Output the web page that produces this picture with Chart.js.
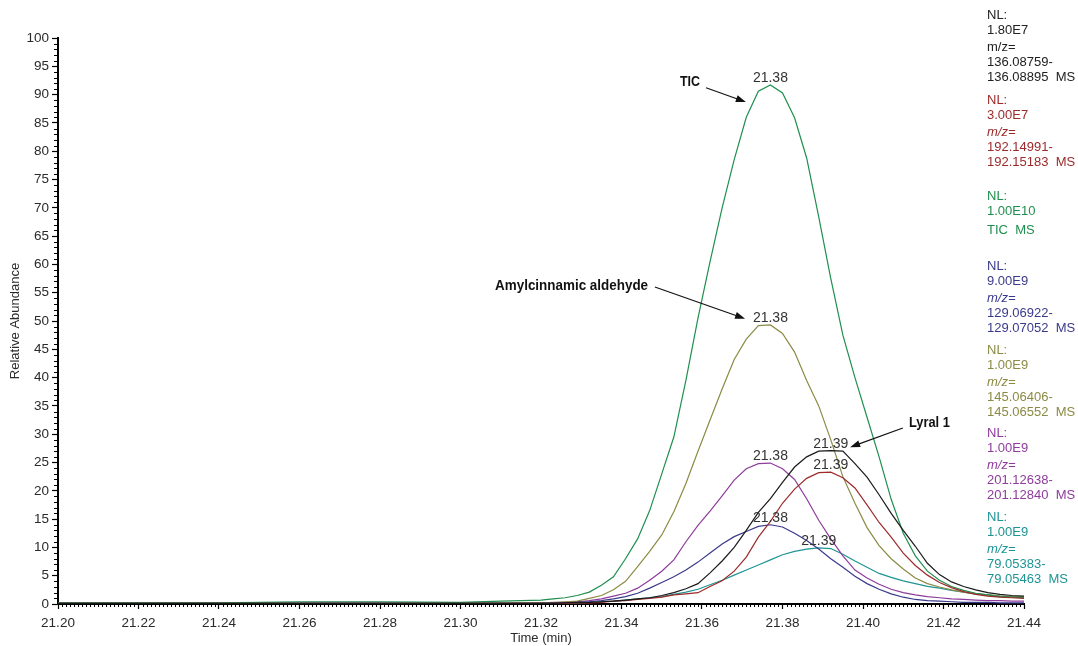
<!DOCTYPE html>
<html>
<head>
<meta charset="utf-8">
<script src="https://cdn.jsdelivr.net/npm/chart.js@4.4.1/dist/chart.umd.min.js"></script>
<style>
  html, body { margin: 0; background: #fff; }
  #wrap { width: 1078px; height: 646px; position: relative; }
</style>
</head>
<body>
<div id="wrap"><canvas id="chrom"></canvas></div>
<script>
// retention times (min): sparse baseline, then one point per scan across the peak
const times = [21.20, 21.22, 21.24, 21.26, 21.28, 21.30, 21.31,
  21.320, 21.323, 21.326, 21.329, 21.332, 21.335, 21.338, 21.341, 21.344, 21.347,
  21.350, 21.353, 21.356, 21.359, 21.362, 21.365, 21.368, 21.371, 21.374, 21.377,
  21.380, 21.383, 21.386, 21.389, 21.392, 21.395, 21.398, 21.401, 21.404, 21.407,
  21.410, 21.413, 21.416, 21.419, 21.422, 21.425, 21.428, 21.431, 21.434, 21.437, 21.440];

// relative abundance (%) per trace
const lyralData = [0.1, 0.1, 0.1, 0.1, 0.1, 0.1, 0.1,
  0.1, 0.1, 0.2, 0.3, 0.3, 0.4, 0.5, 0.7, 0.9, 1.1,
  1.5, 2.0, 2.7, 3.6, 5.5, 7.6, 10.0, 13.0, 16.2, 18.6,
  21.5, 24.2, 26.0, 27.0, 27.1, 27.0, 24.8, 22.4, 19.3, 16.0,
  13.0, 10.2, 7.2, 5.2, 3.9, 3.1, 2.5, 2.0, 1.7, 1.5, 1.4];
const mz192Data = [0.1, 0.1, 0.1, 0.1, 0.1, 0.1, 0.1,
  0.1, 0.1, 0.1, 0.2, 0.2, 0.3, 0.5, 0.6, 0.8, 1.0,
  1.2, 1.6, 1.8, 2.0, 3.1, 4.1, 5.8, 8.3, 11.8, 14.6,
  17.8, 20.3, 22.2, 23.2, 23.3, 22.3, 20.5, 17.5, 14.4, 11.8,
  9.0, 6.8, 5.1, 3.8, 2.9, 2.2, 1.7, 1.4, 1.2, 1.1, 1.0];
const ticData = [0.2, 0.2, 0.2, 0.4, 0.4, 0.3, 0.5,
  0.7, 0.9, 1.1, 1.5, 2.1, 3.3, 4.8, 8.0, 11.5, 16.5,
  23.0, 29.5, 39.5, 50.5, 60.5, 70.0, 78.5, 86.0, 90.6, 91.7,
  90.3, 85.9, 78.8, 68.4, 57.5, 47.5, 40.0, 33.0, 26.0, 18.5,
  12.5, 8.5, 5.8, 4.2, 3.1, 2.4, 1.9, 1.6, 1.3, 1.2, 1.1];
const mz129Data = [0.1, 0.1, 0.1, 0.1, 0.1, 0.1, 0.1,
  0.1, 0.2, 0.2, 0.3, 0.4, 0.6, 0.9, 1.3, 1.9, 2.8,
  3.8, 4.8, 6.0, 7.4, 9.0, 10.6, 11.9, 12.8, 13.7, 14.0,
  13.6, 12.5, 11.2, 9.7, 8.0, 6.5, 4.9, 3.6, 2.6, 1.8,
  1.2, 0.8, 0.6, 0.5, 0.4, 0.3, 0.3, 0.3, 0.2, 0.2, 0.2];
const amylData = [0.1, 0.1, 0.1, 0.1, 0.1, 0.1, 0.2,
  0.2, 0.3, 0.4, 0.5, 1.0, 1.5, 2.5, 4.0, 6.6, 9.3,
  12.2, 16.3, 21.3, 27.0, 32.5, 38.0, 43.2, 46.8, 49.2, 49.3,
  47.8, 44.5, 39.5, 35.0, 29.0, 22.5, 17.8, 13.5, 10.3, 8.0,
  6.2, 4.6, 3.6, 3.0, 2.5, 2.1, 1.8, 1.6, 1.4, 1.3, 1.2];
const mz201Data = [0.1, 0.1, 0.1, 0.1, 0.1, 0.1, 0.1,
  0.2, 0.2, 0.3, 0.4, 0.6, 0.9, 1.4, 1.9, 2.8, 4.2,
  5.8, 7.8, 11.0, 13.9, 16.4, 19.1, 21.9, 23.9, 24.8, 24.9,
  23.9, 22.0, 18.6, 14.8, 11.5, 8.5, 6.0, 4.6, 3.5, 2.6,
  2.0, 1.6, 1.3, 1.1, 0.9, 0.8, 0.7, 0.6, 0.6, 0.5, 0.5];
const mz79Data = [0.1, 0.1, 0.1, 0.1, 0.1, 0.1, 0.1,
  0.1, 0.1, 0.2, 0.2, 0.3, 0.4, 0.5, 0.7, 0.9, 1.1,
  1.3, 1.7, 2.1, 2.6, 3.4, 4.2, 5.1, 6.0, 6.9, 7.8,
  8.7, 9.3, 9.7, 9.9, 9.8, 8.8, 7.6, 6.5, 5.4, 4.7,
  4.1, 3.6, 3.1, 2.8, 2.4, 2.1, 1.8, 1.6, 1.4, 1.3, 1.2];

// right-hand trace info, one block per trace
const infoBlocks = [
  ['NL:', '1.80E7', 'm/z=', '136.08759-', '136.08895  MS'],
  ['NL:', '3.00E7', 'm/z=', '192.14991-', '192.15183  MS'],
  ['NL:', '1.00E10', 'TIC  MS'],
  ['NL:', '9.00E9', 'm/z=', '129.06922-', '129.07052  MS'],
  ['NL:', '1.00E9', 'm/z=', '145.06406-', '145.06552  MS'],
  ['NL:', '1.00E9', 'm/z=', '201.12638-', '201.12840  MS'],
  ['NL:', '1.00E9', 'm/z=', '79.05383-', '79.05463  MS']
];
const infoTop = [15, 100, 196, 266, 350, 433, 517];

const colors = ['#1a1a1a', '#9c2a2a', '#1f8f4e', '#3a3a8c', '#8b8b45', '#8e3c9c', '#1f9494'];
const seriesData = [lyralData, mz192Data, ticData, mz129Data, amylData, mz201Data, mz79Data];

const FONT = '"Liberation Sans", Arial, sans-serif';
Chart.defaults.font.family = FONT;
Chart.defaults.color = '#2a2a2a';

function pts(arr) { return times.map((t, i) => ({ x: t, y: arr[i] })); }

function arrow(ctx, x1, y1, x2, y2) {
  const a = Math.atan2(y2 - y1, x2 - x1);
  ctx.beginPath();
  ctx.moveTo(x1, y1);
  ctx.lineTo(x2 - 6 * Math.cos(a), y2 - 6 * Math.sin(a));
  ctx.stroke();
  ctx.beginPath();
  ctx.moveTo(x2, y2);
  ctx.lineTo(x2 - 10 * Math.cos(a) + 3.5 * Math.sin(a), y2 - 10 * Math.sin(a) - 3.5 * Math.cos(a));
  ctx.lineTo(x2 - 10 * Math.cos(a) - 3.5 * Math.sin(a), y2 - 10 * Math.sin(a) + 3.5 * Math.cos(a));
  ctx.closePath();
  ctx.fill();
}

function boldLabel(ctx, text, x, y, width, align) {
  ctx.save();
  ctx.font = 'bold 15px ' + FONT;
  const w = ctx.measureText(text).width;
  const s = width / w;
  const left = align === 'right' ? x - width : x;
  ctx.translate(left, y);
  ctx.scale(s, 1);
  ctx.textAlign = 'left';
  ctx.textBaseline = 'middle';
  ctx.fillText(text, 0, 0);
  ctx.restore();
}

const extras = {
  id: 'extras',
  afterDraw(chart) {
    const ctx = chart.ctx;
    const xs = chart.scales.x, ys = chart.scales.y;
    const area = chart.chartArea;
    ctx.save();
    // minor ticks
    ctx.strokeStyle = '#000';
    ctx.lineWidth = 1;
    ctx.beginPath();
    for (let v = 0; v <= 100; v++) {
      if (v % 5 === 0) continue;
      const py = Math.round(ys.getPixelForValue(v)) + 0.5;
      ctx.moveTo(area.left - 4, py);
      ctx.lineTo(area.left, py);
    }
    for (let k = 0; k <= 240; k++) {
      if (k % 20 === 0) continue;
      const px = Math.round(xs.getPixelForValue(21.2 + k * 0.001)) + 0.5;
      ctx.moveTo(px, area.bottom);
      ctx.lineTo(px, area.bottom + 3);
    }
    ctx.stroke();

    // peak retention time labels
    ctx.font = '14px ' + FONT;
    ctx.fillStyle = '#333';
    ctx.textAlign = 'center';
    ctx.textBaseline = 'alphabetic';
    chart.data.datasets.forEach((ds, di) => {
      let best = 0;
      ds.data.forEach((p, i) => { if (p.y > ds.data[best].y) best = i; });
      const el = chart.getDatasetMeta(di).data[best];
      ctx.fillText(ds.data[best].x.toFixed(2), el.x, el.y - 3);
    });

    // compound annotations
    ctx.fillStyle = '#111';
    ctx.strokeStyle = '#111';
    ctx.lineWidth = 1.2;
    boldLabel(ctx, 'TIC', xs.getPixelForValue(21.3595), ys.getPixelForValue(92.2), 20, 'right');
    arrow(ctx, xs.getPixelForValue(21.3610), ys.getPixelForValue(91.2), xs.getPixelForValue(21.3709), ys.getPixelForValue(88.7));
    boldLabel(ctx, 'Amylcinnamic aldehyde', xs.getPixelForValue(21.3466), ys.getPixelForValue(56.2), 153, 'right');
    arrow(ctx, xs.getPixelForValue(21.3483), ys.getPixelForValue(56.0), xs.getPixelForValue(21.3707), ys.getPixelForValue(50.4));
    boldLabel(ctx, 'Lyral 1', xs.getPixelForValue(21.4114), ys.getPixelForValue(32.0), 41, 'left');
    arrow(ctx, xs.getPixelForValue(21.4099), ys.getPixelForValue(31.1), xs.getPixelForValue(21.3968), ys.getPixelForValue(27.7));

    // trace info on the right
    const tx = area.right - 37;
    ctx.textAlign = 'left';
    ctx.textBaseline = 'middle';
    infoBlocks.forEach((lines, bi) => {
      const offs = lines.length === 3 ? [0, 15, 34] : [0, 15, 32, 47, 62];
      ctx.fillStyle = bi === 0 ? '#222' : colors[bi];
      lines.forEach((txt, li) => {
        const italic = txt === 'm/z=' && bi > 0;
        ctx.font = (italic ? 'italic ' : '') + '13px ' + FONT;
        ctx.fillText(txt, tx, infoTop[bi] + offs[li]);
      });
    });
    ctx.restore();
  }
};

new Chart(document.getElementById('chrom'), {
  type: 'line',
  data: {
    datasets: seriesData.map((d, i) => ({
      data: pts(d),
      borderColor: colors[i],
      borderWidth: 1.2,
      pointRadius: 0,
      tension: 0,
      fill: false
    }))
  },
  options: {
    responsive: true,
    maintainAspectRatio: false,
    animation: false,
    layout: { padding: { top: 38, right: 54, bottom: 0, left: 0 } },
    plugins: { legend: { display: false }, tooltip: { enabled: false } },
    scales: {
      x: {
        type: 'linear',
        min: 21.2,
        max: 21.44,
        afterFit(s) { s.height = 42; },
        ticks: {
          stepSize: 0.02,
          autoSkip: false,
          maxRotation: 0,
          padding: 6,
          font: { size: 13.5 },
          callback: v => v.toFixed(2)
        },
        grid: { drawOnChartArea: false, tickLength: 5, color: '#000', tickWidth: 1.2 },
        border: { color: '#000', width: 2 },
        title: { display: true, text: 'Time (min)', font: { size: 13 }, padding: { top: 0, bottom: 0 } }
      },
      y: {
        min: 0,
        max: 100,
        afterFit(s) { s.width = 58; },
        ticks: { stepSize: 5, padding: 3, font: { size: 13.5 } },
        grid: { drawOnChartArea: false, tickLength: 6, color: '#000', tickWidth: 1.2 },
        border: { color: '#000', width: 2 },
        title: { display: true, text: 'Relative Abundance', font: { size: 13 }, padding: { top: 8, bottom: 0 } }
      }
    }
  },
  plugins: [extras]
});
</script>
</body>
</html>
